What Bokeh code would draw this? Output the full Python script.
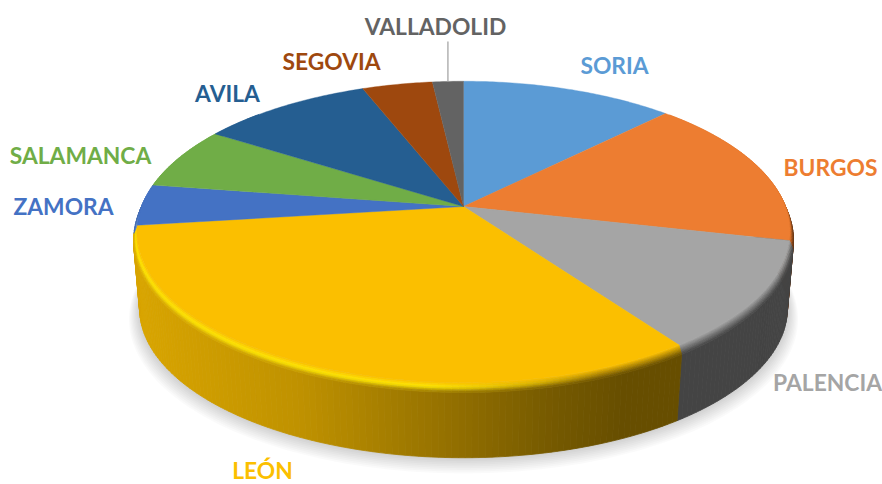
import numpy as np
from bokeh.plotting import figure
from bokeh.models import ColumnDataSource
from bokeh.core.properties import value
from bokeh.embed import file_html
from bokeh.resources import INLINE

# ---- data (clockwise from 12 o'clock) ----
categories = ["SORIA", "BURGOS", "PALENCIA", "LEÓN", "ZAMORA", "SALAMANCA", "AVILA", "SEGOVIA", "VALLADOLID"]
values = [12.4, 16.2, 11.6, 32.8, 4.4, 6.7, 10.0, 4.1, 1.8]

# ---- styles ----
colors = ["#5B9BD5", "#ED7D31", "#A5A5A5", "#FBBF00", "#4472C4", "#70AD47", "#255E91", "#9E480E", "#636363"]
rim_light = [0.2, 0.1, 0.0, 0.6, 0.25, 0.2, 0.2, 0.2, 0.2]
has_wall = [False, True, True, True, False, False, False, False, False]
label_x = [614, 830, 827, 262, 63, 80, 227, 331, 435]
label_y = [64, 166, 381, 469, 205, 154, 92, 60, 25]

# ---- layout of the projected disc, page pixels ----
CX, CY = 463.0, 206.0
R, K, D = 325.2, 147.8, 0.17
FACE = 0.99
BEVEL = 8.0
DEPTH = 77.0
BASE = 0.982


def proj(th, scale=1.0, z=0.0):
    th = np.asarray(th, dtype=float)
    u, v = np.sin(th) * scale, -np.cos(th) * scale
    s = 1.0 / (1.0 - D * v)
    return CX + R * u * s, CY + K * v * s + z


def rgb(h):
    return np.array([int(h[i:i + 2], 16) for i in (1, 3, 5)], dtype=float)


def hexc(c):
    return "#%02x%02x%02x" % tuple(int(round(min(255, max(0, a)))) for a in c)


def side_factor(x):
    return np.interp(x, [140, 300, 420, 560, 625], [0.86, 0.76, 0.62, 0.46, 0.41])


def hl_amount(x):
    return np.interp(x, [140, 430, 600], [1.0, 1.0, 0.0])


frac = np.array(values, dtype=float) / sum(values)
edges = np.concatenate([[0.0], np.cumsum(frac)]) * 2 * np.pi

p = figure(width=882, height=484, x_range=(0, 882), y_range=(484, 0),
           toolbar_location=None, output_backend="svg", min_border=0)
p.axis.visible = False
p.grid.visible = False
p.outline_line_color = None

# soft shadow
tt = np.linspace(0, 2 * np.pi, 240)
for i in range(9):
    sx, sy = proj(tt, BASE + 0.0035 * (9 - i), DEPTH + 1.0 * (9 - i))
    p.patch(sx, sy, fill_color="#000000", fill_alpha=0.02, line_color=None)

# side wall strips and bevel bands
xs, ys, cs = [], [], []
bxs, bys, bcs = [], [], []
nb = 6
for idx, col in enumerate(colors):
    c = rgb(col)
    bright = c + (255 - c) * rim_light[idx] * (c > 0)
    n = max(3, int(np.degrees(edges[idx + 1] - edges[idx]) / 1.0))
    th = np.linspace(edges[idx], edges[idx + 1], n + 1)
    for a, b in zip(th[:-1], th[1:]):
        if -np.cos(0.5 * (a + b)) < -0.7:
            continue
        mid_x = float(proj(0.5 * (a + b))[0])
        sc = c * float(side_factor(mid_x))
        if has_wall[idx] and -np.cos(0.5 * (a + b)) > -0.3:
            x0, y0 = proj([a, b], 1.0, BEVEL)
            x1, y1 = proj([b, a], BASE, DEPTH)
            xs.append(list(x0) + list(x1))
            ys.append(list(y0) + list(y1))
            cs.append(hexc(sc))
        h = float(hl_amount(mid_x))
        hl = (c + sc) * 0.5 * (1 - h) + bright * h
        for j in range(nb):
            t0, t1 = j / nb, (j + 1) / nb
            tm = 0.5 * (t0 + t1)
            col_b = c + (hl - c) * (tm / 0.5) if tm < 0.5 else hl + (sc - hl) * ((tm - 0.5) / 0.5)
            s0, s1 = FACE + (1 - FACE) * t0, FACE + (1 - FACE) * t1
            x0, y0 = proj([a, b], s0, BEVEL * t0)
            x1, y1 = proj([b, a], s1, BEVEL * t1)
            bxs.append(list(x0) + list(x1))
            bys.append(list(y0) + list(y1))
            bcs.append(hexc(col_b))

p.patches("x", "y", source=ColumnDataSource(dict(x=xs, y=ys, c=cs)),
          fill_color="c", line_color="c", line_width=0.8)
p.patches("x", "y", source=ColumnDataSource(dict(x=bxs, y=bys, c=bcs)),
          fill_color="c", line_color="c", line_width=0.6)

# top faces
fx, fy = [], []
for idx in range(len(values)):
    n = max(3, int(np.degrees(edges[idx + 1] - edges[idx]) * 1.5))
    th = np.linspace(edges[idx], edges[idx + 1], n + 1)
    x, y = proj(th, FACE)
    fx.append([CX] + list(x))
    fy.append([CY] + list(y))
p.patches(fx, fy, fill_color=colors, line_color=colors, line_width=0.4)

# leader line of the thin slice
mid = 0.5 * (edges[-2] + edges[-1])
lx, ly = proj(mid, FACE)
p.line([lx, lx], [ly, 41], line_color="#A6A6A6", line_width=1.3)

# labels
p.text(label_x, label_y, text=categories, text_color=colors,
       text_font=value("Lato"), text_font_style="bold", text_font_size="22.8px",
       text_align="center", text_baseline="middle")

open("out.html", "w").write(file_html(p, INLINE))
